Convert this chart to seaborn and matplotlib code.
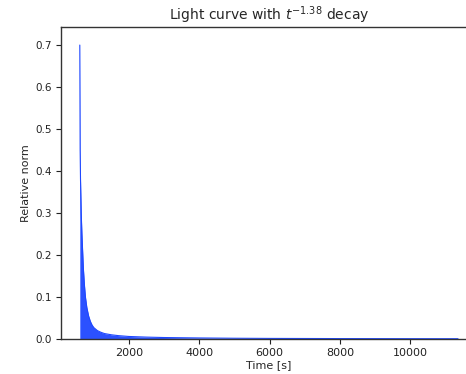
import numpy as np
import pandas as pd
import matplotlib
matplotlib.use("Agg")
import matplotlib.pyplot as plt
import seaborn as sns

# Time samples [s] and relative norm
time_s = [600, 610, 620, 640, 660, 680, 700, 730, 760, 800, 850, 900, 950,
          1000, 1100, 1200, 1300, 1500, 1700, 2000, 2500, 3000, 4000, 5000,
          6000, 8000, 10000, 11360]
rel_norm = [0.70, 0.45, 0.38, 0.30, 0.25, 0.21, 0.17, 0.13, 0.10, 0.075,
            0.055, 0.042, 0.033, 0.027, 0.020, 0.016, 0.013, 0.010, 0.008,
            0.006, 0.0045, 0.0035, 0.0025, 0.0018, 0.0014, 0.0010, 0.0008,
            0.0007]
x_ticks = [2000, 4000, 6000, 8000, 10000]
y_ticks = [0.0, 0.1, 0.2, 0.3, 0.4, 0.5, 0.6, 0.7]

df = pd.DataFrame({"t": time_s, "norm": rel_norm})

sns.set_style("ticks")
plt.rcParams['font.family'] = ['DejaVu Sans']

fig = plt.figure(figsize=(4.66, 3.74), dpi=100)
ax = fig.add_axes([61 / 466, 1 - 339 / 374, (477 - 61) / 466, (339 - 27) / 374])

col = "#1f48ff"
ax.fill_between(df["t"], df["norm"], 0, color=col, lw=0, alpha=0.95)
sns.lineplot(data=df, x="t", y="norm", ax=ax, color=col, lw=0.8)

ax.set_xlim(65, 11900)
ax.set_ylim(0, 0.743)
ax.set_xticks(x_ticks)
ax.set_yticks(y_ticks)
ax.set_xticklabels([str(v) for v in x_ticks], fontsize=8)
ax.set_yticklabels([f"{v:.1f}" for v in y_ticks], fontsize=7.5)
ax.tick_params(direction="out", length=3.5, width=0.8, colors="#222222", pad=3)
for s in ax.spines.values():
    s.set_color("#333333")
    s.set_linewidth(1.0)
    s.set_visible(True)
ax.set_xlabel("Time [s]", fontsize=8, labelpad=1.5)
ax.set_ylabel("Relative norm", fontsize=8, labelpad=3)
ax.set_title(r"Light curve with $t^{-1.38}$ decay", fontsize=10, pad=5)

fig.savefig("out.png", dpi=100)
